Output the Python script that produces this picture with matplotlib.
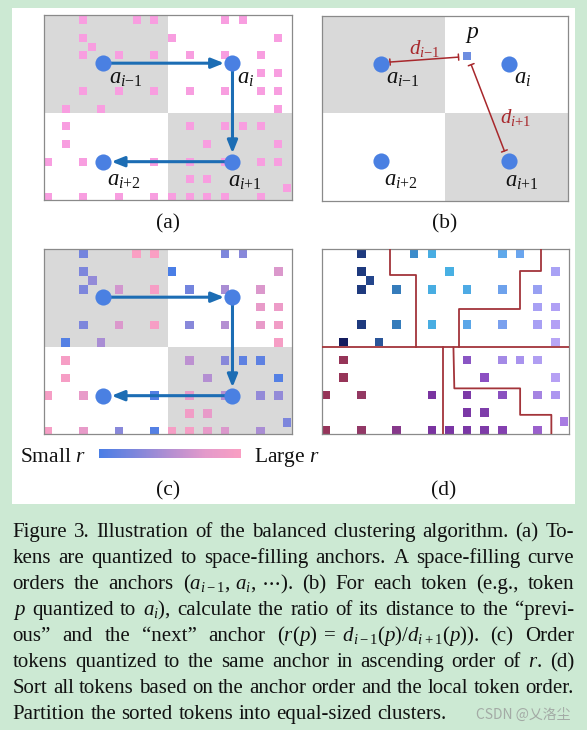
import numpy as np
import matplotlib.pyplot as plt
from matplotlib import font_manager
from matplotlib.patches import Rectangle
from matplotlib.colors import LinearSegmentedColormap

# pick a Times-like serif that is really installed
installed = set(f.name for f in font_manager.fontManager.ttflist)
serif = next(n for n in ['Liberation Serif', 'Tinos', 'Nimbus Roman', 'Times New Roman', 'STIXGeneral']
             if n in installed)
plt.rcParams['font.family'] = [serif, 'DejaVu Serif']
plt.rcParams['mathtext.fontset'] = 'custom'
plt.rcParams['mathtext.rm'] = serif
plt.rcParams['mathtext.it'] = serif + ':italic'
plt.rcParams['mathtext.bf'] = serif + ':bold'
plt.rcParams['mathtext.fallback'] = 'stix'

# token grid positions (column, row from top), shared by panels a, c, d
tok_col = [2, 5, 6, 10, 11,
           2, 7, 13,
           2.5,
           2, 4, 6, 8, 10, 12,
           12, 13,
           2, 4, 6, 8, 10, 12, 13,
           1, 3, 13,
           1, 8, 10, 11, 12,
           1, 9, 13,
           0, 2, 6, 8, 10, 12, 13,
           8, 9,
           13.5,
           0, 2, 4, 6, 7, 8, 9, 10, 12]
tok_row = [0] * 5 + [1] * 3 + [1.5] + [2] * 6 + [3] * 2 + [4] * 7 + [5] * 3 + \
          [6] * 5 + [7] * 3 + [8] * 7 + [9] * 2 + [9.5] + [10] * 9

# ratio r for panel c (0 = small, 1 = large)
tok_r = [0.2, 1.0, 1.0, 0.25, 0.3,
         0.25, 0.0, 0.7,
         0.35,
         0.25, 0.65, 0.95, 0.2, 0.45, 0.7,
         0.8, 0.85,
         0.25, 0.7, 0.95, 0.3, 0.5, 0.8, 0.9,
         0.05, 0.45, 0.95,
         0.95, 0.55, 0.3, 0.1, 0.1,
         0.95, 0.5, 0.05,
         0.95, 0.8, 0.05, 0.8, 0.5, 0.35, 0.35,
         0.9, 0.8,
         0.25,
         0.95, 0.8, 0.3, 0.05, 0.95, 0.95, 0.8, 0.7, 0.45]

# cluster colours for panel d
tok_cluster = ['#1e3a7e', '#3d8ccb', '#48ade2', '#5fa8ea', '#6aa5ee',
               '#1e3a7e', '#48b0e3', '#a9a2f5',
               '#24468c',
               '#1e3a7e', '#357cbb', '#48ade2', '#4eaae4', '#6ea2ec', '#98a0f2',
               '#a8a0f4', '#b0a0f5',
               '#1e3a7e', '#357cbb', '#48ade2', '#5aa6e8', '#7aa0ee', '#a8a0f4', '#b3a0f5',
               '#141c5e', '#2a5599', '#b8a6f6',
               '#963458', '#8a55c4', '#a48ae6', '#a993ee', '#b09ef2',
               '#963458', '#8c4fc2', '#b6a0f4',
               '#963458', '#933862', '#7a34a0', '#7c3aa8', '#8a50c0', '#a584e2', '#ad96f0',
               '#7b38a6', '#7e3eaa',
               '#a87ce2',
               '#96345a', '#923866', '#86388a', '#7a33a0', '#7a35a4', '#7b37a6', '#7e3ba8',
               '#8440b0', '#9a60cc']

# anchors
anchor_x = [3.34, 10.64, 10.64, 3.34]
anchor_y = [2.72, 2.72, 8.28, 8.28]
anchor_lbl = [r'$a_{i\mathit{-1}}$', r'$a_i$', r'$a_{i\mathit{+1}}$', r'$a_{i\mathit{+2}}$']
lbl_x = [3.65, 10.9, 10.4, 3.55]
lbl_y = [3.58, 3.58, 9.4, 9.35]

# panel b: token p and its distances
p_xy = (8.23, 2.25)
d_prev = [(3.87, 2.62), (7.77, 2.34)]
d_next = [(8.49, 2.77), (10.38, 7.68)]

# panel d: partition boundaries
part_lines = [
    ([0, 14], [5.58, 5.58]),
    ([3.87, 3.87, 5.32, 5.32], [0, 1.47, 1.47, 5.58]),
    ([12.4, 12.4, 11.23, 11.23, 7.74, 7.74], [0, 1.25, 1.25, 3.4, 3.4, 5.58]),
    ([6.83, 6.83], [5.58, 10.6]),
    ([7.45, 7.5, 11.23, 11.23, 13.0, 13.0], [5.58, 7.9, 7.9, 9.4, 9.4, 10.6]),
]

caption = [
    ['Figure', '3.', 'Illustration', 'of', 'the', 'balanced', 'clustering', 'algorithm.', '(a)', 'To-'],
    ['kens', 'are', 'quantized', 'to', 'space-filling', 'anchors.', 'A', 'space-filling', 'curve'],
    ['orders', 'the', 'anchors', r'($a_{i-1},\,a_i,\,\cdots$).', '(b)', 'For', 'each', 'token', '(e.g.,', 'token'],
    ['$p$', 'quantized', 'to', '$a_i$),', 'calculate', 'the', 'ratio', 'of', 'its', 'distance', 'to', 'the', '\u201cprevi-'],
    ['ous\u201d', 'and', 'the', '\u201cnext\u201d', 'anchor', r'($r(p)\;=\;d_{i-1}(p)/d_{i+1}(p)$).', '(c)', 'Order'],
    ['tokens', 'quantized', 'to', 'the', 'same', 'anchor', 'in', 'ascending', 'order', 'of', '$r$.', '(d)'],
    ['Sort', 'all', 'tokens', 'based', 'on', 'the', 'anchor', 'order', 'and', 'the', 'local', 'token', 'order.'],
    ['Partition', 'the', 'sorted', 'tokens', 'into', 'equal-sized', 'clusters.'],
]

W, H = 587, 730
GREEN = '#cce9d3'
GRAY = '#d9d9d9'
PINK = '#f89ee0'
ANCHOR = '#4a80e2'
ARROW = '#1c6db4'
RED = '#a8282c'
FS = 15.0      # caption
FS_LBL = 15.5  # panel letters, colour bar words
FS_A = 16.3    # anchor labels

fig = plt.figure(figsize=(W / 100, H / 100), dpi=100, facecolor=GREEN)
fig.add_artist(Rectangle((12 / W, 1 - 504 / H), 563 / W, 496 / H, transform=fig.transFigure,
                         facecolor='white', edgecolor='none', zorder=-1))

cmap = LinearSegmentedColormap.from_list('r', ['#4a7ee6', '#7d86dc', '#b48fd2', '#e49acb', '#fa9fc3'])

tx = 0.226 + np.array(tok_col)
ty = 0.28 + np.array(tok_row)


def px_axes(x0, y0, x1, y1):
    ax = fig.add_axes([x0 / W, 1 - y1 / H, (x1 - x0) / W, (y1 - y0) / H])
    ax.set_xlim(0, 14)
    ax.set_ylim((y1 - y0) * 14 / (x1 - x0), 0)
    ax.set_xticks([])
    ax.set_yticks([])
    for s in ax.spines.values():
        s.set_color('#8a8a8a')
        s.set_linewidth(0.9)
    return ax


def quadrants(ax):
    ax.add_patch(Rectangle((0, 0), 7, 5.53, facecolor=GRAY, edgecolor='none', zorder=0))
    ax.add_patch(Rectangle((7, 5.53), 7, 6, facecolor=GRAY, edgecolor='none', zorder=0))


def anchors(ax, arrows=True, labels=True):
    if arrows:
        for i in range(3):
            ax.annotate('', xy=(anchor_x[i + 1], anchor_y[i + 1]), xytext=(anchor_x[i], anchor_y[i]),
                        arrowprops=dict(arrowstyle='-|>,head_length=0.75,head_width=0.3', color=ARROW,
                                        lw=2.2, shrinkA=5.5, shrinkB=6, mutation_scale=10), zorder=3)
    ax.scatter(anchor_x, anchor_y, s=135, color=ANCHOR, linewidths=0, zorder=4)
    if labels:
        for x, y, t in zip(lbl_x, lbl_y, anchor_lbl):
            ax.text(x, y, t, fontsize=FS_A, ha='left', va='center', color='#111111', zorder=5)


# (a)
ax = px_axes(44, 15, 292, 200)
quadrants(ax)
ax.scatter(tx, ty, s=38, marker='s', color=PINK, linewidths=0, zorder=2)
anchors(ax)

# (b)
ax = px_axes(322, 16, 568, 201)
quadrants(ax)
for seg in (d_prev, d_next):
    ax.annotate('', xy=seg[1], xytext=seg[0],
                arrowprops=dict(arrowstyle='|-|,widthA=0.22,widthB=0.22', color=RED, lw=1.1,
                                shrinkA=0, shrinkB=0, mutation_scale=10))
anchors(ax, arrows=False)
ax.scatter([p_xy[0]], [p_xy[1]], s=40, marker='s', color='#6d8de0', linewidths=0, zorder=4)
ax.text(8.55, 1.08, '$p$', fontsize=17, ha='center', va='center', color='#111111')
ax.text(5.85, 1.83, r'$d_{i\mathit{-1}}$', fontsize=15, ha='center', va='center', color=RED)
ax.text(11.04, 5.79, r'$d_{i\mathit{+1}}$', fontsize=15, ha='center', va='center', color=RED)

# (c)
ax = px_axes(44, 249, 292, 434)
quadrants(ax)
ax.scatter(tx, ty, s=38, marker='s', c=tok_r, cmap=cmap, vmin=0, vmax=1, linewidths=0, zorder=2)
anchors(ax, labels=False)

# colour bar for r
cax = fig.add_axes([99 / W, 1 - 458 / H, 142 / W, 9 / H])
cax.imshow(np.linspace(0, 1, 256)[None, :], cmap=cmap, aspect='auto')
cax.axis('off')
fig.text(20 / W, 1 - 462 / H, 'Small $r$', fontsize=FS_LBL, va='baseline', color='#111111')
fig.text(254 / W, 1 - 462 / H, 'Large $r$', fontsize=FS_LBL, va='baseline', color='#111111')

# (d)
ax = px_axes(322, 249, 569, 434)
ax.scatter(tx, ty, s=38, marker='s', color=tok_cluster, linewidths=0, zorder=2)
for xs, ys in part_lines:
    ax.plot(xs, ys, color='#a3343a', lw=1.3, zorder=3)

# panel letters
for lab, x, y in [('(a)', 168, 228), ('(b)', 445, 228), ('(c)', 168, 495), ('(d)', 444, 495)]:
    fig.text(x / W, 1 - y / H, lab, fontsize=FS_LBL, ha='center', va='baseline', color='#111111')

# justified caption
renderer = fig.canvas.get_renderer()
x_left, x_right = 12.7, 574
for k, words in enumerate(caption):
    yb = 537 + 26 * k
    texts = [fig.text(0, 1 - yb / H, w, fontsize=FS, va='baseline', color='#111111') for w in words]
    widths = [t.get_window_extent(renderer).width for t in texts]
    if k == len(caption) - 1:
        gap = 5.5
    else:
        gap = (x_right - x_left - sum(widths)) / (len(words) - 1)
    x = x_left
    for t, w in zip(texts, widths):
        t.set_x(x / W)
        x += w + gap

fig.text(570 / W, 1 - 719 / H, 'CSDN @乂洛尘', family=['Noto Sans CJK SC', 'DejaVu Sans'],
         fontsize=10, color='#a3aaa5', ha='right', va='baseline')

fig.savefig('out.png', dpi=100, facecolor=GREEN)
